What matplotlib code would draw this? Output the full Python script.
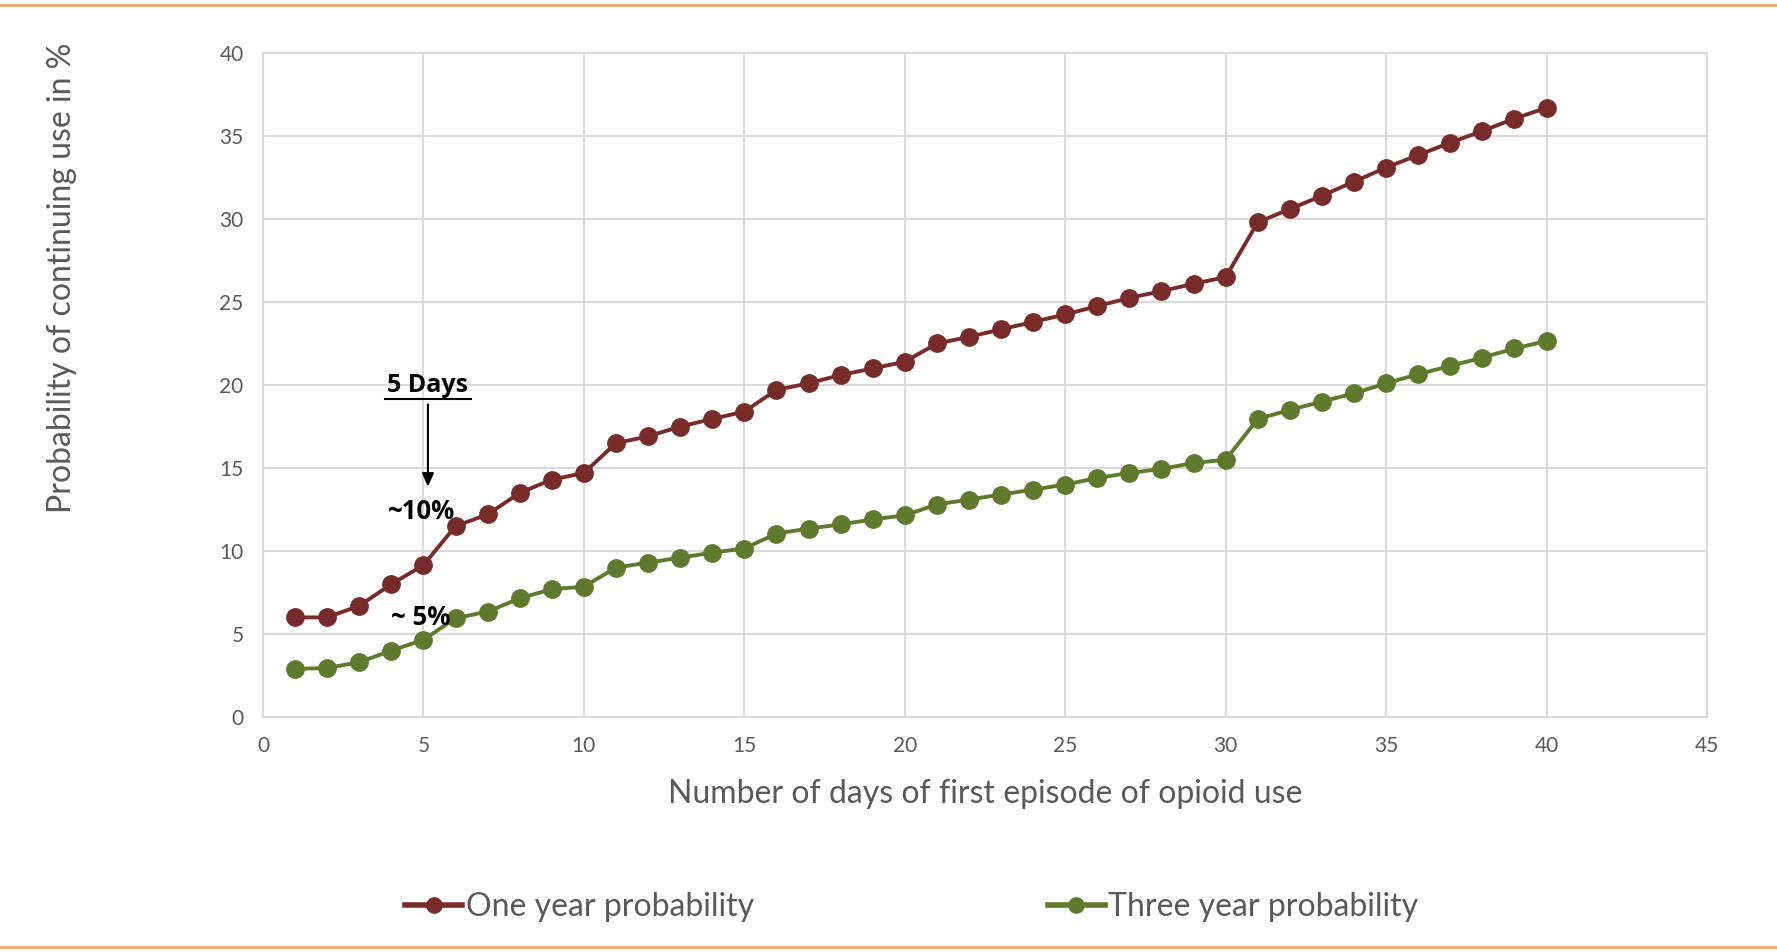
import matplotlib
matplotlib.use("Agg")
import matplotlib.pyplot as plt
from matplotlib.lines import Line2D

plt.rcParams["font.family"] = ["Lato", "DejaVu Sans"]

# ── Data ──────────────────────────────────────────────────────────────────────
days = list(range(1, 41))
one_year = [6.0, 6.0, 6.7, 8.0, 9.15, 11.5, 12.2, 13.5, 14.3, 14.7,
            16.5, 16.9, 17.5, 17.95, 18.4, 19.7, 20.1, 20.6, 21.0, 21.4,
            22.5, 22.9, 23.35, 23.8, 24.25, 24.75, 25.25, 25.65, 26.1, 26.5,
            29.8, 30.6, 31.4, 32.25, 33.1, 33.85, 34.6, 35.3, 36.05, 36.7]
three_year = [2.9, 2.95, 3.3, 4.0, 4.65, 5.95, 6.35, 7.15, 7.7, 7.85,
              9.0, 9.3, 9.6, 9.9, 10.15, 11.05, 11.35, 11.6, 11.9, 12.15,
              12.8, 13.1, 13.4, 13.7, 14.0, 14.4, 14.7, 14.95, 15.3, 15.5,
              17.95, 18.5, 19.0, 19.5, 20.1, 20.65, 21.15, 21.65, 22.2, 22.65]
series_labels = ["One year probability", "Three year probability"]

RED    = "#772C2A"
GREEN  = "#5E7A2D"
GRID   = "#D9D9D9"
TXT    = "#595959"
ORANGE = "#F5A56A"
BOLD   = ["Open Sans", "DejaVu Sans"]

fig = plt.figure(figsize=(17.77, 9.52), dpi=100)
ax = fig.add_axes([263 / 1777, 1 - 717 / 952, (1707 - 263) / 1777, (717 - 53) / 952])

ax.plot(days, one_year, color=RED, lw=2.8, marker="o", ms=12.5, zorder=3)
ax.plot(days, three_year, color=GREEN, lw=2.8, marker="o", ms=12.5, zorder=3)

ax.set_xlim(0, 45)
ax.set_ylim(0, 40)
ax.set_xticks(range(0, 46, 5))
ax.set_yticks(range(0, 41, 5))
ax.grid(True, color=GRID, lw=1.5)
ax.set_axisbelow(True)
for sp in ax.spines.values():
    sp.set_color(GRID)
    sp.set_linewidth(1.5)
ax.tick_params(length=0, labelsize=15, labelcolor=TXT, pad=14)

ax.set_xlabel("Number of days of first episode of opioid use", fontsize=23,
              color=TXT, labelpad=16)
ax.set_ylabel("Probability of continuing use in %", fontsize=23, color=TXT)
ax.yaxis.set_label_coords(-0.129, 0.662)

# annotations
ax.text(5.14, 19.95, "5 Days", fontsize=18, fontweight="bold", ha="center",
        va="center", color="black", family=BOLD)
ax.plot([3.8, 6.48], [19.18, 19.18], color="black", lw=1.5, zorder=4)
ax.annotate("", xy=(5.14, 13.7), xytext=(5.14, 19.0),
            arrowprops=dict(arrowstyle="-|>,head_length=0.8,head_width=0.35",
                            color="black", lw=1.5))
ax.text(4.95, 12.35, "~10%", fontsize=18.5, fontweight="bold", ha="center",
        va="center", color="black", family=BOLD)
ax.text(4.9, 6.0, "~ 5%", fontsize=18.5, fontweight="bold", ha="center",
        va="center", color="black", family=BOLD)

# legend
handles = [Line2D([0], [0], color=RED, lw=4, marker="o", ms=11),
           Line2D([0], [0], color=GREEN, lw=4, marker="o", ms=11)]
fig.legend(handles, series_labels, loc="center", bbox_to_anchor=(0.513, 1 - 907 / 952),
           ncol=2, frameon=False, fontsize=23, handlelength=1.8,
           handletextpad=0.1, columnspacing=9.2, labelcolor=TXT)

# orange border lines
fig.add_artist(Line2D([0, 1], [1 - 5 / 952] * 2, color=ORANGE, lw=2,
                      transform=fig.transFigure))
fig.add_artist(Line2D([0, 1], [1 - 947 / 952] * 2, color=ORANGE, lw=2,
                      transform=fig.transFigure))

fig.savefig("out.png", dpi=100)
